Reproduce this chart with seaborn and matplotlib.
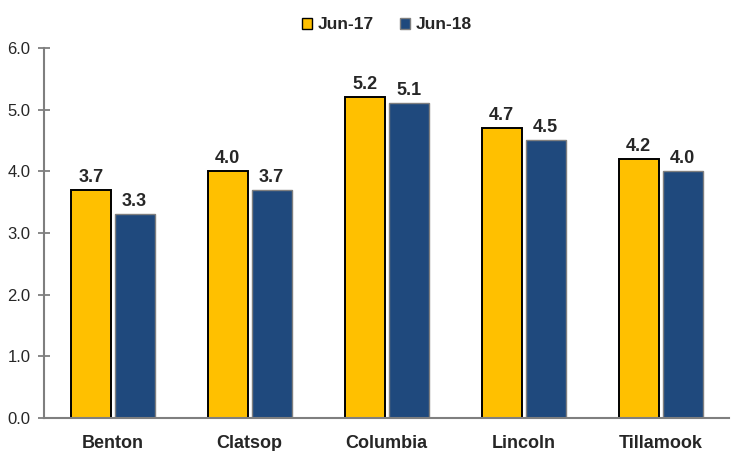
import pandas as pd
import numpy as np
import matplotlib
matplotlib.use('Agg')
import matplotlib.pyplot as plt
import seaborn as sns

# 데이터
counties = ['Benton', 'Clatsop', 'Columbia', 'Lincoln', 'Tillamook']
jun17 = [3.7, 4.0, 5.2, 4.7, 4.2]
jun18 = [3.3, 3.7, 5.1, 4.5, 4.0]
series = ['Jun-17', 'Jun-18']

df = pd.DataFrame({
    'county': counties * 2,
    'value': jun17 + jun18,
    'period': [series[0]] * len(counties) + [series[1]] * len(counties),
})

sns.set_style('white')
plt.rcParams['font.family'] = ['Liberation Sans', 'DejaVu Sans']

fig = plt.figure(figsize=(7.38, 4.51), dpi=100)
ax = fig.add_axes([0.06, 0.073, 0.928, 0.821])

palette = {'Jun-17': '#FFC000', 'Jun-18': '#1F497D'}
sns.barplot(data=df, x='county', y='value', hue='period', palette=palette,
            width=0.64, gap=0.09, saturation=1, ax=ax, legend=True)

# 테두리 색
edges = {'Jun-17': 'black', 'Jun-18': '#7F7F7F'}
widths = {'Jun-17': 1.4, 'Jun-18': 1.0}
for cont, name in zip(ax.containers, series):
    for bar in cont:
        bar.set_edgecolor(edges[name])
        bar.set_linewidth(widths[name])
    ax.bar_label(cont, fmt='%.1f', padding=3, fontsize=13, fontweight='bold')

ax.set_ylim(0, 6)
ax.set_xlim(-0.5, len(counties) - 0.5)
ax.set_yticks(np.arange(0, 6.1, 1.0))
ax.set_yticklabels([f'{v:.1f}' for v in np.arange(0, 6.1, 1.0)], fontsize=12)
ax.set_xlabel('')
ax.set_ylabel('')
for lab in ax.get_xticklabels():
    lab.set_fontweight('bold')
    lab.set_fontsize(13)

ax.tick_params(axis='x', which='major', length=0, pad=12)
ax.set_xticks(np.arange(0.5, len(counties) - 0.5), minor=True)
ax.tick_params(axis='x', which='minor', length=6, width=1.3, color='#7F7F7F', direction='inout')
ax.tick_params(axis='y', length=8, width=1.3, color='#7F7F7F', direction='inout', left=True, pad=6)

for s in ['top', 'right']:
    ax.spines[s].set_visible(False)
for s in ['left', 'bottom']:
    ax.spines[s].set_color('#7F7F7F')
    ax.spines[s].set_linewidth(1.5)

leg = ax.legend(loc='lower center', bbox_to_anchor=(0.5, 1.0), ncol=2, frameon=False,
                handlelength=0.6, handleheight=0.6, handletextpad=0.3, columnspacing=1.5,
                prop={'weight': 'bold', 'size': 12.5})
for h, name in zip(leg.legend_handles, series):
    h.set_edgecolor(edges[name])
    h.set_linewidth(1.0)

fig.savefig('out.png', dpi=100)
